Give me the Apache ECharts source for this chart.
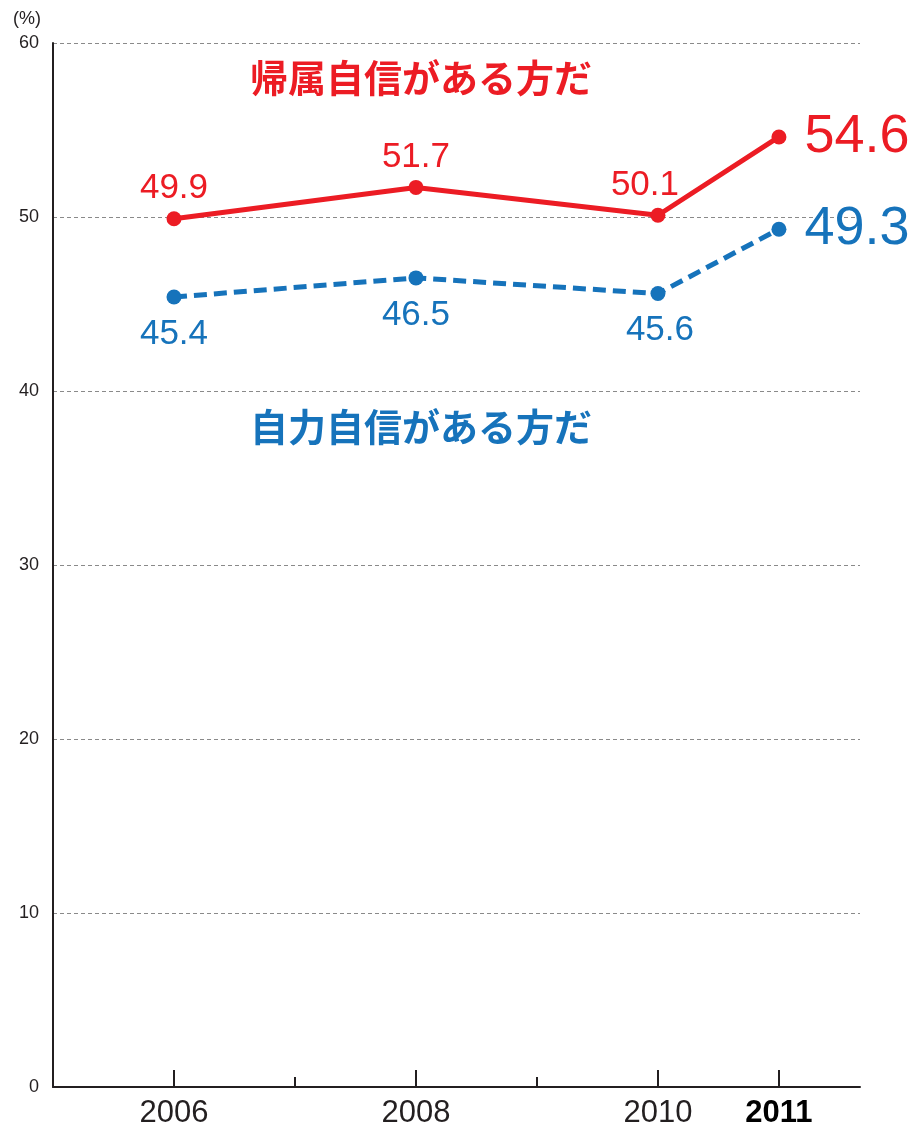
<!DOCTYPE html>
<html>
<head>
<meta charset="utf-8">
<script src="https://cdn.jsdelivr.net/npm/echarts@6/dist/echarts.min.js"></script>
<style>
  html, body { margin: 0; padding: 0; background: #fff; }
  #main { width: 915px; height: 1129px; }
</style>
</head>
<body>
<div id="main"></div>
<script>
var years = [2006, 2008, 2010, 2011];
var minorYears = [2007, 2009];
var belongValues = [49.9, 51.7, 50.1, 54.6];
var selfValues = [45.4, 46.5, 45.6, 49.3];
var belongName = '帰属自信がある方だ';
var selfName = '自力自信がある方だ';

var RED = '#ec1c24';
var BLUE = '#1673bb';
var FONT = '"Liberation Sans", Arial, sans-serif';
var JP = '"Noto Sans CJK JP", sans-serif';

function pairs(vals, isBlue) {
  return vals.map(function (v, i) {
    var item = { value: [years[i], v] };
    if (i === vals.length - 1) {
      item.label = { position: 'right', fontSize: 54, distance: 18 };
    } else if (!isBlue && years[i] === 2010) {
      item.label = { offset: [-13, 0] };
    } else if (isBlue && years[i] === 2010) {
      item.label = { offset: [2, 0] };
    }
    return item;
  });
}

var chart = echarts.init(document.getElementById('main'));

var option = {
  animation: false,
  grid: { left: 53, right: 55, top: 43, bottom: 42 },
  xAxis: [{
    type: 'value',
    min: 2005,
    max: 2011.67,
    interval: 1,
    splitLine: { show: false },
    axisLine: { lineStyle: { color: '#231f20', width: 2 } },
    axisTick: {
      inside: true, length: 17, customValues: years,
      lineStyle: { color: '#231f20', width: 2 }
    },
    axisLabel: {
      customValues: years,
      margin: 11,
      fontSize: 31,
      fontFamily: FONT,
      color: '#231f20',
      formatter: function (v) {
        return v === 2011 ? '{b|2011}' : String(v);
      },
      rich: { b: { fontSize: 31, fontWeight: 'bold', fontFamily: FONT, color: '#000' } }
    }
  }, {
    type: 'value',
    position: 'bottom',
    min: 2005,
    max: 2011.67,
    interval: 1,
    splitLine: { show: false },
    axisLine: { show: false },
    axisLabel: { show: false },
    axisTick: {
      inside: true, length: 10, customValues: minorYears,
      lineStyle: { color: '#231f20', width: 2 }
    }
  }],
  yAxis: {
    type: 'value',
    min: 0,
    max: 60,
    interval: 10,
    name: '(%)',
    nameLocation: 'end',
    nameGap: 15,
    nameTextStyle: { fontSize: 18, color: '#231f20', fontFamily: FONT, align: 'right', padding: [0, 12, 0, 0] },
    axisLine: { show: true, lineStyle: { color: '#231f20', width: 2 } },
    axisTick: { show: false },
    axisLabel: { fontSize: 18, color: '#231f20', fontFamily: FONT, margin: 14 },
    splitLine: { lineStyle: { color: '#8a8a8a', type: [4, 3], width: 1 } }
  },
  graphic: [{
    type: 'text',
    left: 250, top: 59,
    style: { text: belongName, fill: RED, font: 'bold 38px ' + JP }
  }, {
    type: 'text',
    left: 250, top: 408,
    style: { text: selfName, fill: BLUE, font: 'bold 38px ' + JP }
  }],
  series: [{
    name: belongName,
    type: 'line',
    data: pairs(belongValues, false),
    symbol: 'circle',
    symbolSize: 15,
    itemStyle: { color: RED },
    lineStyle: { color: RED, width: 5 },
    label: {
      show: true, position: 'top', distance: 5,
      fontSize: 35, fontFamily: FONT, color: RED,
      formatter: function (p) { return p.value[1].toFixed(1); }
    },
    z: 3
  }, {
    name: selfName,
    type: 'line',
    data: pairs(selfValues, true),
    symbol: 'circle',
    symbolSize: 15,
    itemStyle: { color: BLUE },
    lineStyle: { color: BLUE, width: 5, type: [13, 7] },
    label: {
      show: true, position: 'bottom', distance: 12,
      fontSize: 35, fontFamily: FONT, color: BLUE,
      formatter: function (p) { return p.value[1].toFixed(1); }
    },
    z: 3
  }]
};

chart.setOption(option);
</script>
</body>
</html>
